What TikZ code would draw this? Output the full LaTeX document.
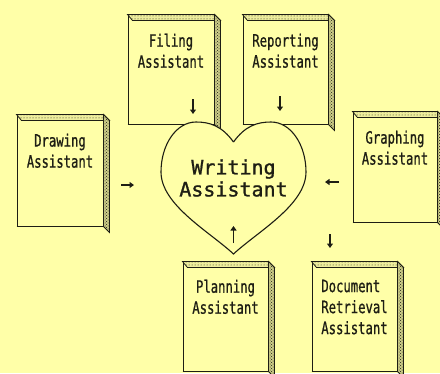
\documentclass[tikz,border=0pt]{standalone}
\usepackage{fontspec}
\usetikzlibrary{arrows.meta, positioning, calc, patterns}
\newfontfamily\bookfont[FakeStretch=0.72, FakeBold=0.8]{DejaVu Sans Mono}
\newfontfamily\heartfont[FakeBold=1]{DejaVu Sans Mono}
\definecolor{paperyellow}{RGB}{255,255,168}
\definecolor{inkblack}{RGB}{30,30,20}
\tikzset{
  face/.style      = {draw=inkblack, line width=1pt, fill=paperyellow, inner sep=0pt,
                      minimum width=86pt, minimum height=109pt},
  booklabel/.style = {align=center, inner sep=0pt, text=inkblack,
                      font={\bookfont\fontsize{17}{21}\selectfont}},
  topface/.style   = {draw=inkblack, line width=0.8pt, preaction={fill=inkblack!8!paperyellow},
                      pattern=dots, pattern color=inkblack},
  sideface/.style  = {draw=inkblack, line width=0.8pt, preaction={fill=inkblack!22!paperyellow},
                      pattern=crosshatch dots, pattern color=inkblack},
  heart/.style     = {draw=inkblack, line width=1.1pt, fill=paperyellow},
  arr/.style       = {-{Triangle[length=4.5pt,width=6pt]}, line width=1.5pt, color=inkblack},
}
\begin{document}
\begin{tikzpicture}[x=1pt, y=-1pt]
  \fill[paperyellow] (0,0) rectangle (440,373);
  \clip (0,0) rectangle (440,373);

  % front faces of the books
  \node[face]                      (filing)    at (171,69.5)    {};
  \node[face, minimum width=85pt]  (reporting) at (285.5,69.5)  {};
  \node[face, minimum height=111pt](drawing)   at (60,170.5)    {};
  \node[face, minimum width=84pt, minimum height=110pt] (graphing) at (395,167) {};
  \node[face, minimum width=85pt]  (planning)  at (225.5,316.5) {};
  \node[face, minimum width=85pt]  (docret)    at (354.5,316.5) {};

  % spine and top edge of each book
  \foreach \b in {filing,reporting,drawing,graphing,planning,docret} {
    \draw[topface] (\b.north west) -- ++(5,6) -- ($(\b.north east)+(6,6)$)
                   -- (\b.north east) -- cycle;
    \draw[sideface] (\b.north east) -- ++(6,6) -- ($(\b.south east)+(6,6)$)
                   -- (\b.south east) -- cycle;
    \draw[inkblack, line width=1.8pt] (\b.south west) -- (\b.south east);
  }

  \node[booklabel, below=19pt of filing.north]    {Filing\\Assistant};
  \node[booklabel, below=19pt of reporting.north] {Reporting\\Assistant};
  \node[booklabel, below=19pt of drawing.north]   {Drawing\\Assistant};
  \node[booklabel, below=19pt of graphing.north]  {Graphing\\Assistant};
  \node[booklabel, below=18pt of planning.north]  {Planning\\Assistant};
  \node[booklabel, align=left, below=18pt of docret.north]
       {Document\\Retrieval\\Assistant};

  % the heart in the middle
  \draw[heart] (233.5,142) .. controls (222,126) and (210,122) .. (196,122)
        .. controls (176,122) and (161,145) .. (161,172)
        .. controls (161,205) and (210,232) .. (233.5,254)
        .. controls (257,232) and (306,205) .. (306,172)
        .. controls (306,145) and (291,122) .. (271,122)
        .. controls (257,122) and (245,126) .. (233.5,142);
  \node[inner sep=0pt, align=center, text=inkblack,
        font={\heartfont\fontsize{20}{22}\selectfont}] (writing) at (233.5,178)
       {Writing\\Assistant};

  % small arrows toward the writing assistant
  \coordinate (fil-a) at (193,99);   \coordinate (fil-b) at (193,114);
  \coordinate (rep-a) at (280,96);   \coordinate (rep-b) at (280,111);
  \coordinate (drw-a) at (121,185);  \coordinate (drw-b) at (134,185);
  \coordinate (grp-a) at (339,182);  \coordinate (grp-b) at (325,182);
  \coordinate (pln-a) at (233.5,243);\coordinate (pln-b) at (233.5,226);
  \coordinate (doc-a) at (330,234);  \coordinate (doc-b) at (330,248);
  \foreach \s in {fil,rep,drw,grp,pln,doc} \draw[arr] (\s-a) -- (\s-b);
\end{tikzpicture}
\end{document}
